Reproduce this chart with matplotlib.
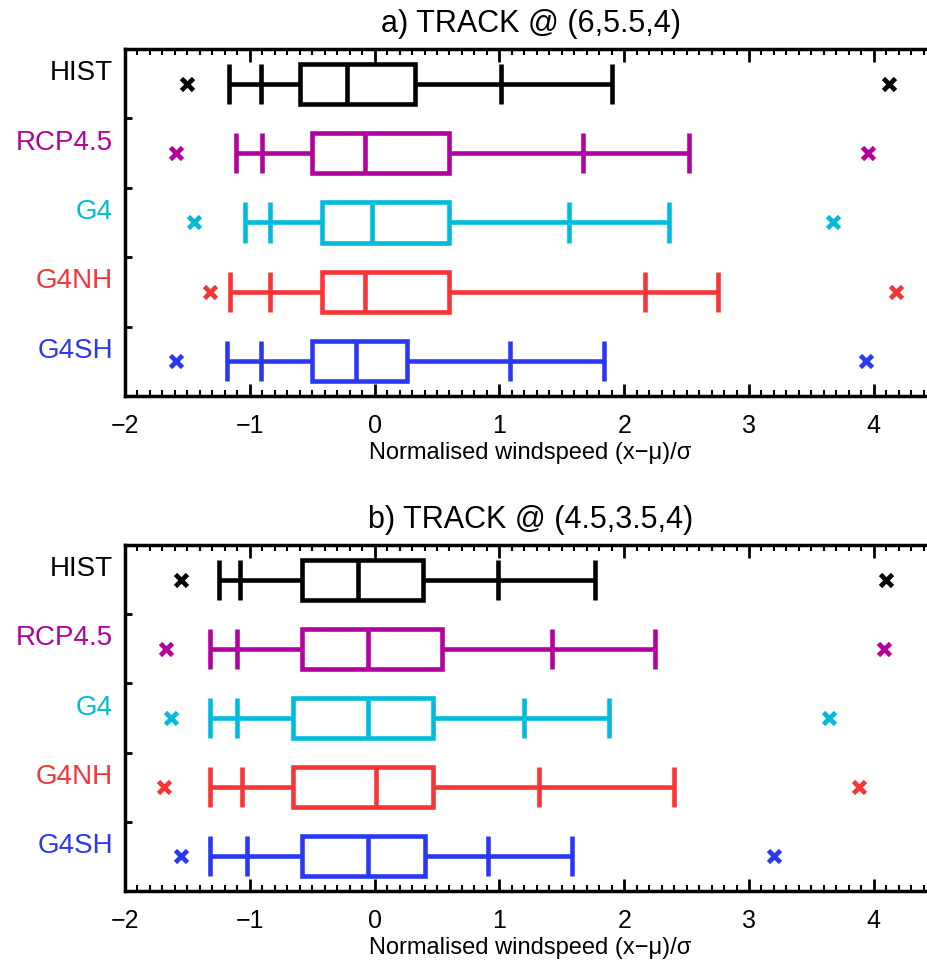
import matplotlib
matplotlib.use('Agg')
import matplotlib.pyplot as plt
from matplotlib.patches import Rectangle
from matplotlib.ticker import MultipleLocator
import matplotlib.transforms as mtransforms

plt.rcParams['font.family'] = ['Liberation Sans', 'DejaVu Sans']

# experiment names and colours, top to bottom
experiments = ['HIST', 'RCP4.5', 'G4', 'G4NH', 'G4SH']
colours = ['#000000', '#b4009e', '#00bcdc', '#f83434', '#2a38f5']

# panel a) TRACK @ (6,5.5,4): extremes, outer/inner whisker marks, quartiles, median
a_min = [-1.50, -1.59, -1.45, -1.32, -1.59]
a_lo_cap = [-1.17, -1.11, -1.04, -1.16, -1.18]
a_lo_tick = [-0.91, -0.905, -0.84, -0.84, -0.91]
a_q1 = [-0.60, -0.50, -0.42, -0.42, -0.50]
a_med = [-0.22, -0.08, -0.02, -0.08, -0.15]
a_q3 = [0.32, 0.60, 0.60, 0.60, 0.26]
a_hi_tick = [1.01, 1.67, 1.56, 2.17, 1.085]
a_hi_cap = [1.90, 2.52, 2.36, 2.75, 1.835]
a_max = [4.12, 3.95, 3.67, 4.18, 3.94]

# panel b) TRACK @ (4.5,3.5,4)
b_min = [-1.55, -1.67, -1.63, -1.69, -1.55]
b_lo_cap = [-1.25, -1.32, -1.32, -1.32, -1.32]
b_lo_tick = [-1.08, -1.10, -1.10, -1.06, -1.025]
b_q1 = [-0.58, -0.58, -0.65, -0.65, -0.58]
b_med = [-0.13, -0.055, -0.055, 0.015, -0.055]
b_q3 = [0.39, 0.54, 0.47, 0.47, 0.40]
b_hi_tick = [0.985, 1.42, 1.195, 1.32, 0.91]
b_hi_cap = [1.77, 2.25, 1.88, 2.40, 1.58]
b_max = [4.10, 4.08, 3.64, 3.88, 3.20]

panels = [
    ('a) TRACK @ (6,5.5,4)',
     (a_min, a_lo_cap, a_lo_tick, a_q1, a_med, a_q3, a_hi_tick, a_hi_cap, a_max)),
    ('b) TRACK @ (4.5,3.5,4)',
     (b_min, b_lo_cap, b_lo_tick, b_q1, b_med, b_q3, b_hi_tick, b_hi_cap, b_max)),
]

W, H = 928, 963
fig = plt.figure(figsize=(W / 100, H / 100), dpi=100)

# axes boxes in pixels: left, top, bottom (right runs past the figure edge)
ax_left = 125
px_per_unit = 124.8
xmin, xmax = -2.0, 4.5
boxes_px = [(49, 396), (545, 891)]

lw = 3.3
half_box = 0.29
half_cap = 0.29

for (title, stats), (top, bot) in zip(panels, boxes_px):
    width = (xmax - xmin) * px_per_unit
    ax = fig.add_axes([ax_left / W, (H - bot) / H, width / W, (bot - top) / H])
    mn, lc, lt, q1, md, q3, ht, hc, mx = stats

    for i, c in enumerate(colours):
        y = i
        # whiskers
        ax.hlines(y, lc[i], q1[i], color=c, lw=lw, zorder=2)
        ax.hlines(y, q3[i], hc[i], color=c, lw=lw, zorder=2)
        # caps and inner ticks
        ax.vlines([lc[i], lt[i], ht[i], hc[i]], y - half_cap, y + half_cap,
                  color=c, lw=lw, zorder=2)
        # box and median
        ax.add_patch(Rectangle((q1[i], y - half_box), q3[i] - q1[i], 2 * half_box,
                               fill=True, facecolor='white', edgecolor=c,
                               lw=lw, joinstyle='miter', zorder=3))
        ax.vlines(md[i], y - half_box, y + half_box, color=c, lw=lw, zorder=4)
        # extremes
        ax.plot([mn[i], mx[i]], [y, y], ls='none', marker='x', ms=9,
                mew=3.4, color=c, zorder=4)

    ax.set_xlim(xmin, xmax)
    ax.set_ylim(len(experiments) - 0.5, -0.5)

    # coloured experiment names to the left of the axes
    trans = mtransforms.blended_transform_factory(
        mtransforms.offset_copy(ax.transAxes, fig=fig, x=-12, y=0, units='dots'),
        ax.transData)
    for i, (name, c) in enumerate(zip(experiments, colours)):
        ax.text(0, i - 0.15, name, color=c, fontsize=20, ha='right', va='center',
                transform=trans)

    ax.set_yticks([])
    ax.set_yticks([0.5, 1.5, 2.5, 3.5], minor=True)
    ax.tick_params(axis='y', which='minor', direction='in', length=5, width=2,
                   left=True, right=False)

    ax.set_xticks(range(-2, 5))
    ax.xaxis.set_minor_locator(MultipleLocator(0.1))
    ax.tick_params(axis='x', which='major', direction='in', length=9, width=2,
                   top=True, labelsize=18, pad=13)
    ax.tick_params(axis='x', which='minor', direction='in', length=4, width=1.5,
                   top=True)

    for s in ax.spines.values():
        s.set_linewidth(2.5)

    ax.set_xlabel('Normalised windspeed (x\u2212\u03bc)/\u03c3', fontsize=17,
                  labelpad=3)
    ax.set_title(title, fontsize=22, pad=12)

fig.savefig('out.png', dpi=100)
